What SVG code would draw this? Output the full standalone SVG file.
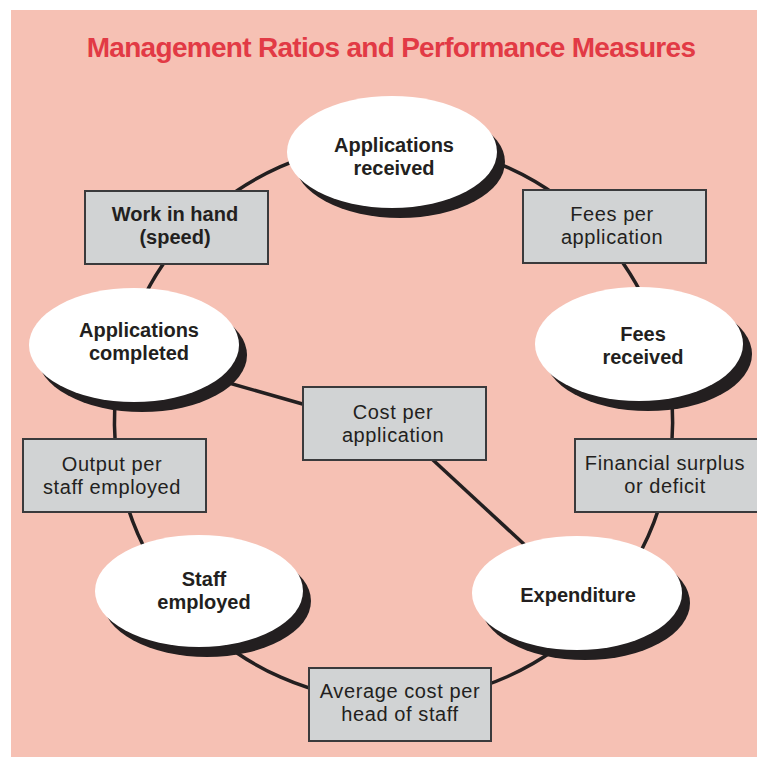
<svg xmlns="http://www.w3.org/2000/svg" width="757" height="761" viewBox="0 0 757 761">
<style>
.bg{fill:#F6C1B4}
.title{font-family:"Liberation Sans",Arial,sans-serif;font-weight:bold;font-size:28px;letter-spacing:-0.7px;fill:#E23A45;text-anchor:middle}
.conn{fill:none;stroke:#231F20;stroke-width:3.5}
.shadow{fill:#231F20}
.oval{fill:#FFFFFF}
.box{fill:#D1D3D4;stroke:#3A3A3C;stroke-width:2}
.bl{font-family:"Liberation Sans",Arial,sans-serif;font-weight:bold;font-size:20px;fill:#231F20;text-anchor:middle}
.rl{font-family:"Liberation Sans",Arial,sans-serif;font-size:20px;letter-spacing:0.6px;fill:#231F20;text-anchor:middle}
</style>
<rect class="bg" x="11" y="10" width="746" height="747"/>
<text class="title" x="391" y="57">Management Ratios and Performance Measures</text>
<g id="connectors">
<path class="conn" d="M186 235 A279 279 0 0 1 393.5 143"/>
<path class="conn" d="M393.5 143 A279 279 0 0 1 602.5 237"/>
<path class="conn" d="M602.5 237 A279 279 0 0 1 659.5 337.6"/>
<path class="conn" d="M659.5 337.6 A279 279 0 0 1 667.4 475"/>
<path class="conn" d="M667.4 475 A279 279 0 0 1 597.5 612"/>
<path class="conn" d="M597.5 612 A279 279 0 0 1 399.8 701"/>
<path class="conn" d="M399.8 701 A279 279 0 0 1 183 605"/>
<path class="conn" d="M183 605 A279 279 0 0 1 119.6 475"/>
<path class="conn" d="M119.6 475 A279 279 0 0 1 126 343"/>
<path class="conn" d="M126 343 A279 279 0 0 1 186 235"/>
<path class="conn" d="M215 379 L320 409"/>
<path class="conn" d="M420 448 L540 559"/>
</g>
<g id="applications-received">
<ellipse class="shadow" cx="400" cy="162" rx="105" ry="56"/>
<ellipse class="oval" cx="392" cy="152" rx="105" ry="56"/>
<text class="bl" x="394" y="151.5">Applications</text>
<text class="bl" x="394" y="174.5">received</text>
</g>
<g id="work-in-hand">
<rect class="box" x="85" y="191" width="183" height="73"/>
<text class="bl" x="175" y="220.5">Work in hand</text>
<text class="bl" x="175" y="243.5">(speed)</text>
</g>
<g id="fees-per-application">
<rect class="box" x="523" y="190" width="183" height="73"/>
<text class="rl" x="612" y="221">Fees per</text>
<text class="rl" x="612" y="244">application</text>
</g>
<g id="applications-completed">
<ellipse class="shadow" cx="142" cy="355" rx="105" ry="57"/>
<ellipse class="oval" cx="134" cy="345" rx="105" ry="57"/>
<text class="bl" x="139" y="337">Applications</text>
<text class="bl" x="139" y="360">completed</text>
</g>
<g id="fees-received">
<ellipse class="shadow" cx="648" cy="354" rx="104" ry="57"/>
<ellipse class="oval" cx="639" cy="344" rx="104" ry="57"/>
<text class="bl" x="643" y="340.5">Fees</text>
<text class="bl" x="643" y="363.5">received</text>
</g>
<g id="cost-per-application">
<rect class="box" x="303" y="387" width="183" height="73"/>
<text class="rl" x="393" y="418.5">Cost per</text>
<text class="rl" x="393" y="441.5">application</text>
</g>
<g id="output-per-staff">
<rect class="box" x="23" y="439" width="183" height="73"/>
<text class="rl" x="112" y="470.5">Output per</text>
<text class="rl" x="112" y="493.5">staff employed</text>
</g>
<g id="financial-surplus">
<rect class="box" x="575" y="439" width="183" height="73"/>
<text class="rl" x="665" y="469.5">Financial surplus</text>
<text class="rl" x="665" y="492.5">or deficit</text>
</g>
<g id="staff-employed">
<ellipse class="shadow" cx="207" cy="601" rx="104" ry="56"/>
<ellipse class="oval" cx="199" cy="591" rx="104" ry="56"/>
<text class="bl" x="204" y="585.5">Staff</text>
<text class="bl" x="204" y="608.5">employed</text>
</g>
<g id="expenditure">
<ellipse class="shadow" cx="585" cy="603" rx="105" ry="57"/>
<ellipse class="oval" cx="577" cy="593" rx="105" ry="57"/>
<text class="bl" x="578" y="602">Expenditure</text>
</g>
<g id="average-cost">
<rect class="box" x="309" y="668" width="182" height="73"/>
<text class="rl" x="400" y="697.5">Average cost per</text>
<text class="rl" x="400" y="720.5">head of staff</text>
</g>
</svg>
